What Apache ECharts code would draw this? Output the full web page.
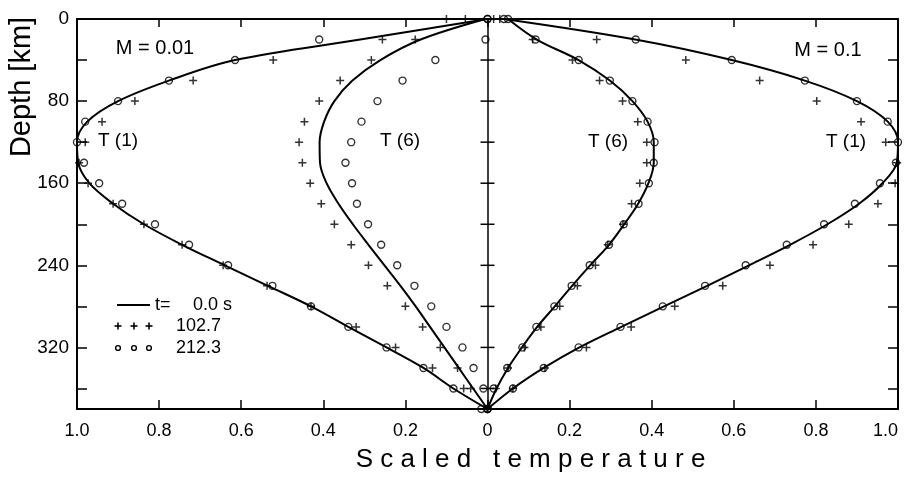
<!DOCTYPE html>
<html><head><meta charset="utf-8">
<script src="https://cdn.jsdelivr.net/npm/echarts@6/dist/echarts.min.js"></script>
<style>html,body{margin:0;padding:0;background:#fff}#c{width:904px;height:480px}</style>
</head><body><div id="c"></div>
<script>
// Depth of every sample [km]
const depths = [0,20,40,60,80,100,120,140,160,180,200,220,240,260,280,300,320,340,360,380];
// Tick labels
const xTickLabels = ['1.0','0.8','0.6','0.4','0.2','0','0.2','0.4','0.6','0.8','1.0'];
const yTickLabels = [0, 80, 160, 240, 320];
const centerTickDepths = [40,80,120,160,200,240,280,320,360];

// Left half: M = 0.01  (scaled temperature, drawn towards the left)
const m001_T1_t0   = [0, 0.31, 0.615, 0.776, 0.90, 0.975, 1.0, 0.997, 0.97, 0.912, 0.837, 0.744, 0.64, 0.535, 0.43, 0.339, 0.246, 0.156, 0.083, 0];
const m001_T1_t103 = [0.10, 0.256, 0.522, 0.717, 0.859, 0.939, 0.98, 0.995, 0.973, 0.912, 0.837, 0.744, 0.644, 0.537, 0.43, 0.32, 0.224, 0.134, 0.058, 0];
const m001_T1_t212 = [0, 0.41, 0.615, 0.776, 0.90, 0.98, 1.0, 0.983, 0.946, 0.89, 0.81, 0.727, 0.632, 0.524, 0.43, 0.339, 0.246, 0.156, 0.083, 0];
const m001_T6_t0   = [0.005, 0.163, 0.261, 0.329, 0.373, 0.398, 0.409, 0.408, 0.392, 0.363, 0.328, 0.29, 0.251, 0.212, 0.175, 0.14, 0.105, 0.07, 0.035, 0];
const m001_T6_t103 = [0.054, 0.176, 0.283, 0.359, 0.41, 0.446, 0.459, 0.451, 0.432, 0.405, 0.373, 0.332, 0.29, 0.244, 0.2, 0.158, 0.115, 0.073, 0.041, 0];
const m001_T6_t212 = [0, 0.005, 0.127, 0.207, 0.268, 0.307, 0.332, 0.346, 0.33, 0.318, 0.291, 0.259, 0.22, 0.178, 0.137, 0.10, 0.061, 0.034, 0.01, 0.015];

// Right half: M = 0.1
const m01_T1_t0   = [0.04, 0.36, 0.595, 0.773, 0.90, 0.975, 1.0, 0.997, 0.962, 0.905, 0.828, 0.737, 0.637, 0.535, 0.43, 0.326, 0.224, 0.137, 0.062, 0];
const m01_T1_t103 = [0.03, 0.266, 0.483, 0.663, 0.802, 0.91, 0.97, 0.998, 0.993, 0.951, 0.88, 0.793, 0.688, 0.573, 0.456, 0.35, 0.241, 0.14, 0.062, 0];
const m01_T1_t212 = [0.04, 0.361, 0.595, 0.773, 0.90, 0.975, 1.0, 0.995, 0.956, 0.895, 0.82, 0.729, 0.629, 0.53, 0.427, 0.324, 0.222, 0.137, 0.062, 0];
const m01_T6_t0   = [0.05, 0.12, 0.222, 0.298, 0.353, 0.39, 0.405, 0.405, 0.392, 0.367, 0.333, 0.296, 0.25, 0.206, 0.164, 0.121, 0.084, 0.05, 0.022, 0];
const m01_T6_t103 = [0.015, 0.11, 0.207, 0.273, 0.329, 0.366, 0.388, 0.388, 0.371, 0.351, 0.33, 0.293, 0.263, 0.219, 0.176, 0.13, 0.09, 0.05, 0.02, 0];
const m01_T6_t212 = [0.05, 0.117, 0.222, 0.298, 0.353, 0.39, 0.407, 0.405, 0.393, 0.368, 0.332, 0.296, 0.249, 0.205, 0.163, 0.119, 0.085, 0.048, 0.015, 0];

const legendTexts = ['0.0 s', '102.7', '212.3'];

const FONT = '"Liberation Sans", Arial, Helvetica, sans-serif';
const INK = '#000';
const left = v => depths.map((d, i) => [-v[i], d]);
const right = v => depths.map((d, i) => [v[i], d]);

const PLUS = 'path://M0,5H10M5,0V10';

function lineSeries(name, data) {
  return { name, type: 'line', data, smooth: 0.35, symbol: 'none',
    lineStyle: { color: INK, width: 2 }, z: 3, silent: true };
}
function plusSeries(name, data) {
  return { name, type: 'scatter', data, symbol: PLUS, symbolSize: 8,
    itemStyle: { color: 'rgba(0,0,0,0)', borderColor: INK, borderWidth: 1.5 }, z: 4, silent: true };
}
function circleSeries(name, data) {
  return { name, type: 'scatter', data, symbol: 'circle', symbolSize: 7,
    itemStyle: { color: 'rgba(0,0,0,0)', borderColor: INK, borderWidth: 1.4 }, z: 4, silent: true };
}

const axisCommon = {
  axisLine: { show: true, onZero: false, lineStyle: { color: INK, width: 2 } },
  splitLine: { show: false },
  minorTick: { show: false }
};

const chart = echarts.init(document.getElementById('c'), null, { renderer: 'canvas' });
chart.setOption({
  backgroundColor: '#fff',
  animation: false,
  textStyle: { fontFamily: FONT, color: INK },
  grid: { left: 77, right: 6, top: 19, bottom: 71, containLabel: false, outerBoundsMode: 'none' },
  xAxis: [
    Object.assign({}, axisCommon, {
      type: 'value', position: 'bottom', min: -1, max: 1, interval: 0.2,
      axisTick: { show: true, inside: true, length: 9, lineStyle: { color: INK, width: 1.5 } },
      axisLabel: { show: true, color: INK, fontSize: 18, fontFamily: FONT, margin: 13,
        alignMaxLabel: 'right',
        formatter: v => xTickLabels[Math.round((v + 1) / 0.2)] },
      name: 'S c a l e d   t e m p e r a t u r e', nameLocation: 'middle', nameGap: 38,
      nameTextStyle: { color: INK, fontSize: 26, fontFamily: FONT, padding: [0, 0, 0, 86] }
    }),
    Object.assign({}, axisCommon, {
      type: 'value', position: 'top', min: -1, max: 1, interval: 0.2,
      axisTick: { show: true, inside: true, length: 8, lineStyle: { color: INK, width: 1.5 } },
      axisLabel: { show: false }
    })
  ],
  yAxis: [
    Object.assign({}, axisCommon, {
      type: 'value', position: 'left', inverse: true, min: 0, max: 380, interval: 40,
      axisTick: { show: true, inside: true, length: 10, lineStyle: { color: INK, width: 1.5 } },
      axisLabel: { show: true, color: INK, fontSize: 19, fontFamily: FONT, margin: 8,
        formatter: v => yTickLabels.indexOf(v) >= 0 ? String(v) : '' }
    }),
    Object.assign({}, axisCommon, {
      type: 'value', position: 'right', inverse: true, min: 0, max: 380, interval: 40,
      axisTick: { show: true, inside: true, length: 10, lineStyle: { color: INK, width: 1.5 } },
      axisLabel: { show: false }
    })
  ],
  series: [
    {
      name: 'center', type: 'custom', xAxisIndex: 0, yAxisIndex: 0, silent: true, z: 2,
      data: centerTickDepths.map(d => [0, d]),
      encode: { x: 0, y: 1 },
      renderItem: (params, api) => {
        const p = api.coord([api.value(0), api.value(1)]);
        return { type: 'line', shape: { x1: p[0] - 7, y1: p[1], x2: p[0] + 7, y2: p[1] },
          style: { stroke: INK, lineWidth: 1.5 } };
      },
      markLine: { silent: true, symbol: 'none', label: { show: false },
        lineStyle: { color: INK, width: 1.5, type: 'solid' }, data: [{ xAxis: 0 }] }
    },
    lineSeries('M0.01 T1 t=0', left(m001_T1_t0)),
    lineSeries('M0.01 T6 t=0', left(m001_T6_t0)),
    lineSeries('M0.1 T1 t=0', right(m01_T1_t0)),
    lineSeries('M0.1 T6 t=0', right(m01_T6_t0)),
    plusSeries('M0.01 T1 t=102.7', left(m001_T1_t103)),
    plusSeries('M0.01 T6 t=102.7', left(m001_T6_t103)),
    plusSeries('M0.1 T1 t=102.7', right(m01_T1_t103)),
    plusSeries('M0.1 T6 t=102.7', right(m01_T6_t103)),
    circleSeries('M0.01 T1 t=212.3', left(m001_T1_t212)),
    circleSeries('M0.01 T6 t=212.3', left(m001_T6_t212)),
    circleSeries('M0.1 T1 t=212.3', right(m01_T1_t212)),
    circleSeries('M0.1 T6 t=212.3', right(m01_T6_t212))
  ],
  graphic: [
    { type: 'text', x: 22, y: 87, rotation: Math.PI / 2,
      style: { text: 'Depth [km]', font: '29px ' + FONT, fill: INK, align: 'center', verticalAlign: 'middle' } },
    { type: 'text', x: 155, y: 48, style: { text: 'M = 0.01', font: '20px ' + FONT, fill: INK, align: 'center', verticalAlign: 'middle' } },
    { type: 'text', x: 828, y: 50, style: { text: 'M = 0.1', font: '20px ' + FONT, fill: INK, align: 'center', verticalAlign: 'middle' } },
    { type: 'text', x: 118, y: 141, style: { text: 'T (1)', font: '19px ' + FONT, fill: INK, align: 'center', verticalAlign: 'middle' } },
    { type: 'text', x: 400, y: 141, style: { text: 'T (6)', font: '19px ' + FONT, fill: INK, align: 'center', verticalAlign: 'middle' } },
    { type: 'text', x: 608, y: 142, style: { text: 'T (6)', font: '19px ' + FONT, fill: INK, align: 'center', verticalAlign: 'middle' } },
    { type: 'text', x: 846, y: 142, style: { text: 'T (1)', font: '19px ' + FONT, fill: INK, align: 'center', verticalAlign: 'middle' } },
    // legend
    { type: 'line', shape: { x1: 117, y1: 305, x2: 150, y2: 305 }, style: { stroke: INK, lineWidth: 2 } },
    { type: 'text', x: 155, y: 305, style: { text: 't=', font: '18px ' + FONT, fill: INK, verticalAlign: 'middle' } },
    { type: 'text', x: 193, y: 305, style: { text: legendTexts[0], font: '18px ' + FONT, fill: INK, verticalAlign: 'middle' } },
    ...[118, 134, 149].map(x => ({ type: 'group', children: [
      { type: 'line', shape: { x1: x - 3.5, y1: 326, x2: x + 3.5, y2: 326 }, style: { stroke: INK, lineWidth: 1.6 } },
      { type: 'line', shape: { x1: x, y1: 322.5, x2: x, y2: 329.5 }, style: { stroke: INK, lineWidth: 1.6 } }
    ] })),
    { type: 'text', x: 176, y: 326, style: { text: legendTexts[1], font: '18px ' + FONT, fill: INK, verticalAlign: 'middle' } },
    ...[118, 134, 149].map(x => ({ type: 'circle', shape: { cx: x, cy: 348, r: 2.4 },
      style: { fill: 'none', stroke: INK, lineWidth: 1.4 } })),
    { type: 'text', x: 176, y: 348, style: { text: legendTexts[2], font: '18px ' + FONT, fill: INK, verticalAlign: 'middle' } }
  ]
});
</script>
</body></html>
